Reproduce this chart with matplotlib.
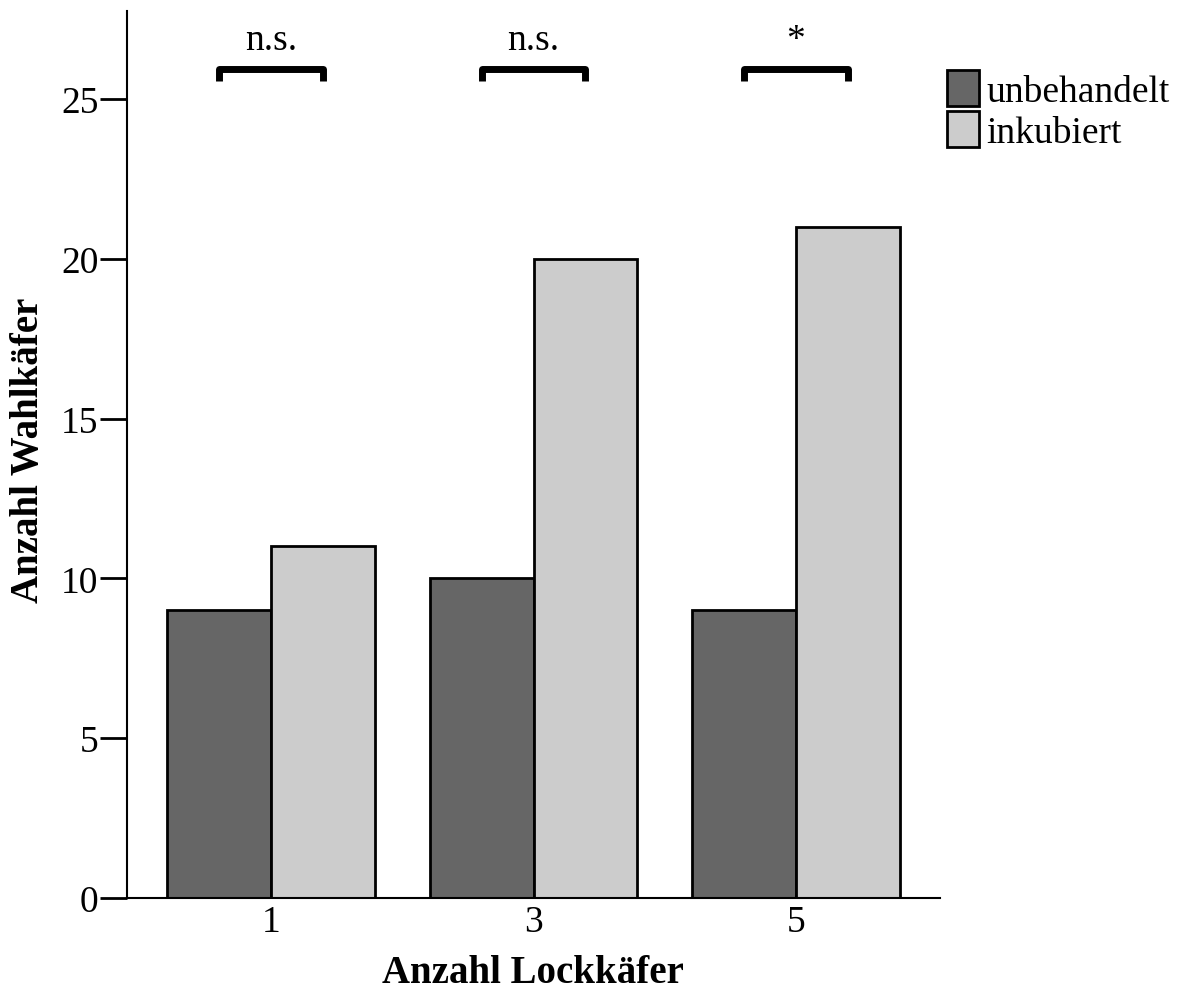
import matplotlib
matplotlib.use("Agg")
import matplotlib.pyplot as plt
from matplotlib.patches import Patch

plt.rcParams['font.family'] = ['Liberation Serif', 'DejaVu Serif']

categories = ['1', '3', '5']
unbehandelt = [9, 10, 9]
inkubiert = [11, 20, 21]
signif = ['n.s.', 'n.s.', '*']
yticks = [0, 5, 10, 15, 20, 25]

dark = '#666666'
light = '#cccccc'

fig = plt.figure(figsize=(11.81, 9.95), dpi=100)
ax = fig.add_axes([127/1181, 96/995, 813/1181, 887/995])

x = list(range(len(categories)))
w = 0.396
ax.bar([i - w/2 for i in x], unbehandelt, width=w, color=dark,
       edgecolor='black', linewidth=2, zorder=2)
ax.bar([i + w/2 for i in x], inkubiert, width=w, color=light,
       edgecolor='black', linewidth=2, zorder=2)

ax.set_xlim(-0.549, 2.549)
ax.set_ylim(0, 27.75)
ax.set_xticks(x)
ax.set_xticklabels(categories)
ax.set_yticks(yticks)
ax.tick_params(axis='x', length=0, pad=5, labelsize=27)
ax.tick_params(axis='y', length=19.5, width=2, pad=1, labelsize=27)

for s in ['top', 'right']:
    ax.spines[s].set_visible(False)
ax.spines['left'].set_linewidth(1.5)
ax.spines['bottom'].set_linewidth(1.5)

ax.set_xlabel('Anzahl Lockkäfer', fontsize=28, fontweight='bold')
ax.set_ylabel('Anzahl Wahlkäfer', fontsize=28, fontweight='bold')
ax.xaxis.set_label_coords((533 - 127) / 813, -(974 - 899) / 887)
ax.yaxis.set_label_coords(-(127 - 29) / 813, (899 - 450) / 887)
ax.xaxis.label.set_va('center')
ax.yaxis.label.set_va('center')

# significance brackets above each group
yb, leg = 25.95, 0.4
for i, lab in zip(x, signif):
    x0, x1 = i - w/2, i + w/2
    ax.plot([x0, x0, x1, x1], [yb - leg, yb, yb, yb - leg], color='black',
            lw=5, solid_joinstyle='round', solid_capstyle='butt', clip_on=False)
    ax.text(i, yb + 0.35, lab, ha='center', va='bottom', fontsize=27)

handles = [Patch(facecolor=dark, edgecolor='black', linewidth=2, label='unbehandelt'),
           Patch(facecolor=light, edgecolor='black', linewidth=2, label='inkubiert')]
fig.legend(handles=handles, loc='upper left', bbox_to_anchor=(936/1181, 1 - 60/995),
           frameon=False, fontsize=27, handlelength=0.85, handleheight=1.1,
           handletextpad=0.2, labelspacing=0.05, borderaxespad=0, borderpad=0.3)

fig.savefig('out.png', dpi=100)
